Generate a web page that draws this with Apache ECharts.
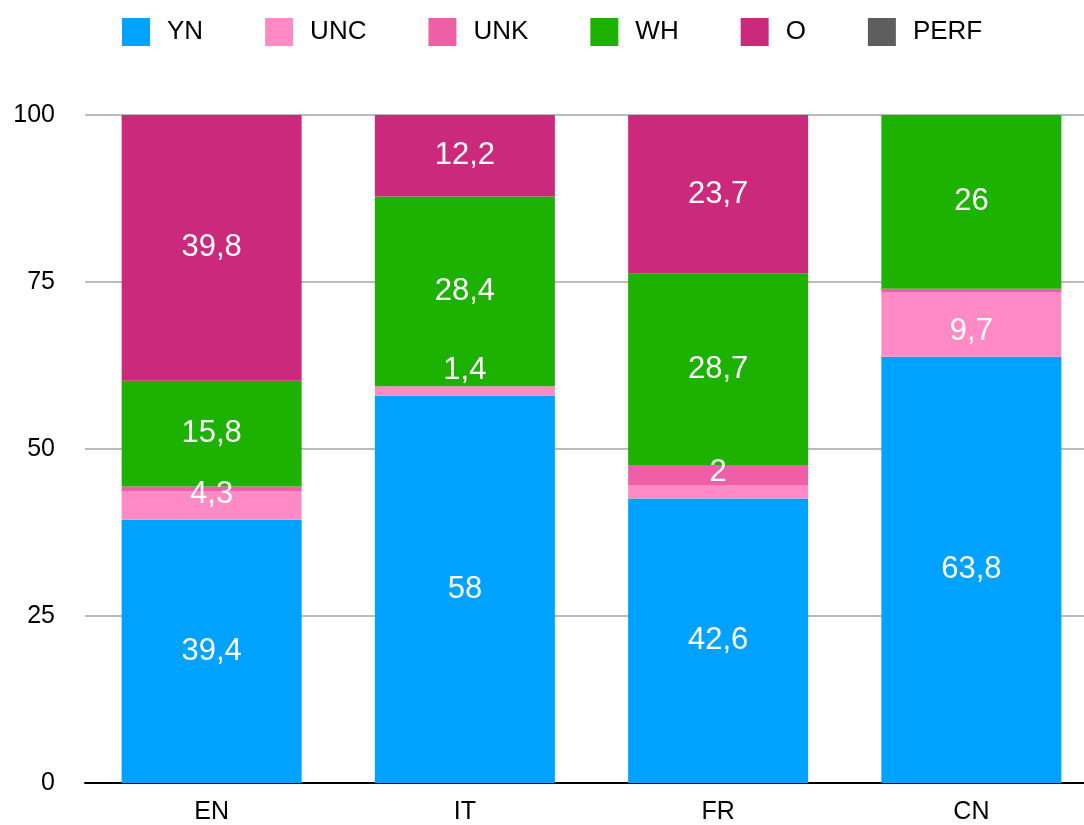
<!DOCTYPE html>
<html>
<head>
<meta charset="utf-8">
<script src="https://cdn.jsdelivr.net/npm/echarts@6/dist/echarts.min.js"></script>
<style>
  html, body { margin: 0; padding: 0; background: #fff; overflow: hidden; }
  #chart { width: 1098px; height: 825px; }
</style>
</head>
<body>
<div id="chart"></div>
<script>
// categories + series values
const categories = ['EN', 'IT', 'FR', 'CN'];
const yn   = [39.4, 58, 42.6, 63.8];
const unc  = [4.3, 1.4, 2, 9.7];
const unk  = [0.7, 0, 3, 0.5];
const wh   = [15.8, 28.4, 28.7, 26];
const o    = [39.8, 12.2, 23.7, 0];
const perf = [0, 0, 0, 0];
const yTicks = [0, 25, 50, 75, 100];

const colors = ['#00a2ff', '#ff8ac6', '#ef5fa7', '#1db100', '#cb297b', '#5e5e5e'];
const font = 'Liberation Sans, Arial, Helvetica, sans-serif';

function fmt(p) {
    if (!p.value) return '';
    return String(p.value).replace('.', ',');
}

function makeSeries(name, data, showLabel, labelOpts) {
    return {
        name: name,
        type: 'bar',
        stack: 'total',
        barWidth: 180,
        data: data,
        label: Object.assign({
            show: showLabel,
            position: 'inside',
            color: '#fff',
            fontSize: 31,
            fontFamily: font,
            formatter: fmt
        }, labelOpts || {})
    };
}

let chart = echarts.init(document.getElementById('chart'));

let option = {
    animation: false,
    color: colors,
    textStyle: { fontFamily: font },
    legend: {
        top: 18,
        left: 122,
        padding: 0,
        itemWidth: 28,
        itemHeight: 28,
        itemGap: 62,
        icon: 'rect',
        textStyle: { fontSize: 26, color: '#000', fontFamily: font, padding: [0, 0, 0, 12] },
        data: ['YN', 'UNC', 'UNK', 'WH', 'O', 'PERF']
    },
    // the div is a bit wider than the window: plot runs past the right edge like the original
    grid: { left: 85, right: 0, top: 115, bottom: 42 },
    xAxis: {
        type: 'category',
        data: categories,
        axisTick: { show: false },
        axisLine: { lineStyle: { color: '#000', width: 2 } },
        axisLabel: { fontSize: 25, color: '#000', margin: 17, fontFamily: font }
    },
    yAxis: {
        type: 'value',
        min: yTicks[0],
        max: yTicks[yTicks.length - 1],
        interval: 25,
        axisLine: { show: false },
        axisTick: { show: false },
        splitLine: { lineStyle: { color: '#bbbbbb', width: 2 } },
        axisLabel: { fontSize: 25, color: '#000', margin: 30, fontFamily: font }
    },
    series: [
        makeSeries('YN', yn, true),
        makeSeries('UNC', unc, true, { position: 'insideBottom', distance: 10 }),
        makeSeries('UNK', unk, false),
        makeSeries('WH', wh, true),
        makeSeries('O', o, true),
        makeSeries('PERF', perf, false)
    ]
};

chart.setOption(option);
</script>
</body>
</html>
